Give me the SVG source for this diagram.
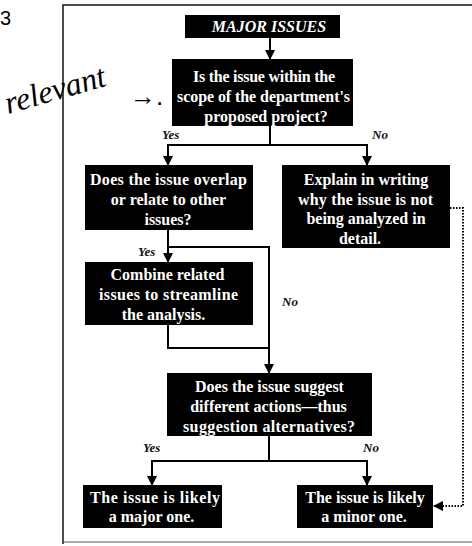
<svg xmlns="http://www.w3.org/2000/svg" width="472" height="546" viewBox="0 0 472 546">
<style>
.box{fill:#000}
.t{font-family:"Liberation Serif",serif;font-weight:bold;font-size:16px;fill:#fff}
.c{text-anchor:middle}
.lbl{font-family:"Liberation Serif",serif;font-style:italic;font-weight:bold;font-size:13px;fill:#111}
.ln{stroke:#000;stroke-width:2;fill:none}
.dot{stroke:#000;stroke-width:2;fill:none;stroke-dasharray:1.5 1.5}
</style>
<defs>
<marker id="ah" markerWidth="10" markerHeight="10" refX="9" refY="5" orient="auto" markerUnits="userSpaceOnUse">
<path d="M0,0 L10,5 L0,10 Z" fill="#000"/>
</marker>
</defs>
<rect width="472" height="546" fill="#fff"/>
<text x="0" y="25" font-family="Liberation Sans,sans-serif" font-size="20" fill="#000">3</text>
<g id="frame">
<path d="M63,544 L63,5 L472,5" stroke="#111" stroke-width="1.5" fill="none"/>
<path d="M63,542 L472,542" stroke="#555" stroke-width="1" fill="none"/>
</g>
<g id="note">
<text x="8" y="114" transform="rotate(-16 8 114)" font-family="Liberation Serif,serif" font-style="italic" font-size="32" fill="#000">relevant</text>
<text x="130" y="105" font-family="Liberation Sans,sans-serif" font-size="26" fill="#000">→.</text>
</g>
<g id="connectors">
<path class="ln" d="M270,38 L270,59" marker-end="url(#ah)"/>
<path class="ln" d="M270,126 L270,145"/>
<path class="ln" d="M168,145 L168,165" marker-end="url(#ah)"/>
<path class="ln" d="M367,145 L367,165" marker-end="url(#ah)"/>
<path class="ln" d="M167,145 L368,145"/>
<path class="ln" d="M168,230 L168,262" marker-end="url(#ah)"/>
<path class="ln" d="M168,247 L269,247 L269,373" marker-end="url(#ah)"/>
<path class="ln" d="M168,325 L168,348 L269,348"/>
<path class="ln" d="M269,436 L269,461"/>
<path class="ln" d="M151,461 L368,461"/>
<path class="ln" d="M152,461 L152,485" marker-end="url(#ah)"/>
<path class="ln" d="M367,461 L367,485" marker-end="url(#ah)"/>
<path class="dot" d="M450,208 L463,208 L463,506 L434,506" marker-end="url(#ah)"/>
<text class="lbl" x="162" y="139">Yes</text>
<text class="lbl" x="372" y="139">No</text>
<text class="lbl" x="138" y="256">Yes</text>
<text class="lbl" x="282" y="306">No</text>
<text class="lbl" x="143" y="452">Yes</text>
<text class="lbl" x="363" y="452">No</text>
</g>
<g id="n1">
<rect class="box" x="185" y="15" width="155" height="23"/>
<text class="t c" x="269" y="32" font-style="italic">MAJOR ISSUES</text>
</g>
<g id="n2">
<rect class="box" x="172" y="59" width="181" height="67"/>
<text class="t" x="193" y="82" textLength="142" lengthAdjust="spacing">Is the issue within the</text>
<text class="t" x="177" y="102" textLength="173" lengthAdjust="spacing">scope of the department's</text>
<text class="t c" x="266" y="122">proposed project?</text>
</g>
<g id="n3">
<rect class="box" x="85" y="165" width="168" height="65"/>
<text class="t" x="90" y="185" textLength="157" lengthAdjust="spacing">Does the issue overlap</text>
<text class="t c" x="168.5" y="205">or relate to other</text>
<text class="t c" x="168" y="225">issues?</text>
</g>
<g id="n4">
<rect class="box" x="282" y="165" width="168" height="83"/>
<text class="t c" x="366" y="185">Explain in writing</text>
<text class="t" x="298" y="205" textLength="135" lengthAdjust="spacing">why the issue is not</text>
<text class="t c" x="366" y="224">being analyzed in</text>
<text class="t c" x="360" y="244">detail.</text>
</g>
<g id="n5">
<rect class="box" x="85" y="262" width="168" height="63"/>
<text class="t c" x="167.5" y="280">Combine related</text>
<text class="t" x="99" y="300" textLength="139" lengthAdjust="spacing">issues to streamline</text>
<text class="t c" x="163.5" y="320">the analysis.</text>
</g>
<g id="n6">
<rect class="box" x="167" y="373" width="205" height="63"/>
<text class="t c" x="269.5" y="392">Does the issue suggest</text>
<text class="t c" x="268.5" y="412">different actions—thus</text>
<text class="t" x="183" y="432" textLength="172" lengthAdjust="spacing">suggestion alternatives?</text>
</g>
<g id="n7">
<rect class="box" x="83" y="485" width="139" height="43"/>
<text class="t" x="90" y="503" textLength="130" lengthAdjust="spacing">The issue is likely</text>
<text class="t c" x="151.5" y="522">a major one.</text>
</g>
<g id="n8">
<rect class="box" x="297" y="485" width="136" height="43"/>
<text class="t c" x="365" y="503">The issue is likely</text>
<text class="t c" x="364" y="522">a minor one.</text>
</g>
</svg>
